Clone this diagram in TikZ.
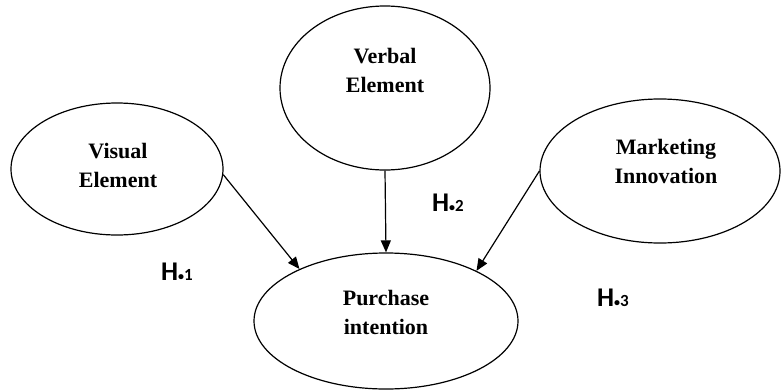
\documentclass[tikz,border=0pt]{standalone}
\usepackage{fontspec}
\setmainfont{Liberation Serif}
\newfontfamily\hfont{Carlito}
\usetikzlibrary{shapes.geometric,arrows.meta}
\tikzset{
  oval/.style={draw, ellipse, line width=1.2pt, inner sep=0pt},
  lbl/.style={font=\fontsize{22}{29}\selectfont\bfseries, align=center, inner sep=0pt},
  hyp/.style={font=\hfont\fontsize{27}{27}\selectfont\bfseries, anchor=base west, inner sep=0pt},
  arr/.style={line width=1.2pt, -{Triangle[length=12pt,width=10pt]}}
}
\newcommand{\hsub}[1]{H{\fontsize{12}{12}\selectfont\raisebox{-0.5pt}{•}}{\fontsize{17}{17}\selectfont#1}}
\begin{document}
\begin{tikzpicture}[x=1pt,y=-1pt]
\useasboundingbox (0,0) rectangle (781,391);
\node[oval, minimum width=212pt, minimum height=132pt] (vis) at (117,169) {};
\node[oval, minimum width=210pt, minimum height=164pt] (ver) at (385,88) {};
\node[oval, minimum width=240pt, minimum height=144pt] (mkt) at (660,171) {};
\node[oval, minimum width=264pt, minimum height=136pt] (pur) at (386,321) {};
\node[lbl] (visT) at (118,165) {Visual\\Element};
\node[lbl] (verT) at (385,70) {Verbal\\Element};
\node[lbl] (mktT) at (666,161) {Marketing\\Innovation};
\node[lbl] (purT) at (386,312) {Purchase\\intention};
\draw[arr] (vis.-3) -- (pur.149);
\draw[arr] (ver.south) -- (pur.north);
\draw[arr] (mkt.180) -- (pur.29);
\node[hyp] (h1) at (161,280) {\hsub{1}};
\node[hyp] (h2) at (432,211) {\hsub{2}};
\node[hyp] (h3) at (597,306) {\hsub{3}};
\end{tikzpicture}
\end{document}
